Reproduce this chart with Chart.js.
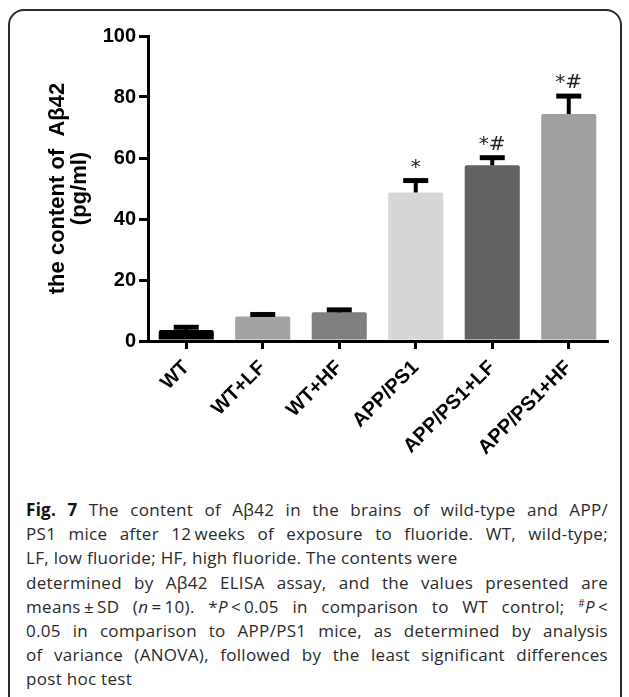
<!DOCTYPE html>
<html>
<head>
<meta charset="utf-8">
<script src="https://cdn.jsdelivr.net/npm/chart.js@4.4.1/dist/chart.umd.min.js"></script>
<style>
    html, body { margin: 0; padding: 0; background: #fff; }
    body { width: 629px; height: 697px; position: relative; overflow: hidden; }
    #frame {
        position: absolute; left: 8px; top: 9px; width: 610px; height: 720px;
        border: 2px solid #2b2b2b; border-radius: 16px;
    }
    #chartBox { position: absolute; left: 0; top: 0; }
    #caption {
        position: absolute; left: 26px; top: 498px; width: 582px;
        font-family: "Open Sans", sans-serif; font-size: 17px; letter-spacing: 0.3px;
        line-height: 24.2px; color: #2a2a2a;
    }
    #caption div { white-space: nowrap; height: 24.2px; }
    #caption .j { text-align: justify; text-align-last: justify; white-space: normal; }
    #caption b { color: #111; }
    #caption sup { font-size: 10px; line-height: 0; vertical-align: 6px; }
</style>
</head>
<body>
<div id="frame"></div>
<canvas id="chartBox" width="629" height="480"></canvas>
<div id="caption">
    <div class="j"><b>Fig. 7</b> The content of Aβ42 in the brains of wild-type and APP/</div>
    <div class="j">PS1 mice after 12&#8201;weeks of exposure to fluoride. WT, wild-type;</div>
    <div>LF, low fluoride; HF, high fluoride. The contents were</div>
    <div class="j">determined by Aβ42 ELISA assay, and the values presented are</div>
    <div class="j">means&#8201;±&#8201;SD (<i>n</i>&#8201;=&#8201;10). *<i>P</i>&#8201;&lt;&#8201;0.05 in comparison to WT control; <sup>#</sup><i>P</i>&#8201;&lt;</div>
    <div class="j">0.05 in comparison to APP/PS1 mice, as determined by analysis</div>
    <div class="j">of variance (ANOVA), followed by the least significant differences</div>
    <div>post hoc test</div>
</div>
<script>
// groups and Aβ42 values (pg/ml)
const groups = ["WT", "WT+LF", "WT+HF", "APP/PS1", "APP/PS1+LF", "APP/PS1+HF"];
const means = [3.6, 8.0, 9.4, 48.7, 57.6, 74.4];
const sds = [0.9, 0.7, 0.8, 3.9, 2.5, 5.9];
const marks = ["", "", "", "*", "*#", "*#"];
const yTicks = [0, 20, 40, 60, 80, 100];

const barColors = ["#000000", "#a3a3a3", "#7f7f7f", "#d6d6d6", "#626262", "#a0a0a0"];

// upper error bars + significance marks
const errorBars = {
    id: "errorBars",
    afterDatasetsDraw(chart) {
        const ctx = chart.ctx;
        const y = chart.scales.y;
        const meta = chart.getDatasetMeta(0);
        ctx.save();
        meta.data.forEach((bar, i) => {
            const x = bar.x;
            const yTop = y.getPixelForValue(means[i]);
            const yErr = y.getPixelForValue(means[i] + sds[i]);
            ctx.strokeStyle = "#000";
            ctx.lineWidth = 4;
            ctx.beginPath();
            ctx.moveTo(x, yTop);
            ctx.lineTo(x, yErr);
            ctx.stroke();
            ctx.lineWidth = 5;
            ctx.beginPath();
            ctx.moveTo(x - 12.5, yErr);
            ctx.lineTo(x + 12.5, yErr);
            ctx.stroke();
            if (marks[i]) {
                ctx.fillStyle = "#222";
                ctx.font = "20px 'DejaVu Sans', sans-serif";
                ctx.textAlign = "center";
                ctx.textBaseline = "middle";
                ctx.fillText(marks[i], x, yErr - 13);
            }
        });
        ctx.restore();
    },
};

new Chart(document.getElementById("chartBox").getContext("2d"), {
    type: "bar",
    data: {
        labels: groups,
        datasets: [{
            data: means,
            backgroundColor: barColors,
            borderWidth: 0,
            borderRadius: 2,
            barPercentage: 0.72,
            categoryPercentage: 1,
        }],
    },
    options: {
        responsive: false,
        animation: false,
        devicePixelRatio: 1,
        layout: { padding: { left: 0, top: 36, right: 22, bottom: 0 } },
        plugins: { legend: { display: false }, tooltip: { enabled: false } },
        scales: {
            x: {
                grid: {
                    offset: false, drawOnChartArea: false, drawTicks: true,
                    tickLength: 8, lineWidth: 3, color: "#000",
                },
                border: { display: true, color: "#000", width: 3 },
                ticks: {
                    autoSkip: false, maxRotation: 45, minRotation: 45, padding: 7,
                    color: "#000",
                    font: { family: "'Liberation Sans', Arial, sans-serif", size: 20, weight: "bold" },
                },
                afterFit: (scale) => { scale.height = 139; },
            },
            y: {
                min: 0, max: 100,
                afterBuildTicks: (scale) => { scale.ticks = yTicks.map((v) => ({ value: v })); },
                grid: {
                    drawOnChartArea: false, drawTicks: true,
                    tickLength: 9, lineWidth: 3, color: "#000",
                },
                border: { display: true, color: "#000", width: 3 },
                ticks: {
                    padding: 3, color: "#000",
                    font: { family: "'Liberation Sans', Arial, sans-serif", size: 20, weight: "bold" },
                },
                title: {
                    display: true,
                    text: ["the content of  Aβ42", "(pg/ml)"],
                    color: "#000",
                    font: { family: "'Liberation Sans', Arial, sans-serif", size: 22, weight: "bold", lineHeight: 1.0 },
                    padding: { top: 47, bottom: 0 },
                },
                afterFit: (scale) => { scale.width = 148; },
            },
        },
    },
    plugins: [errorBars],
});
</script>
</body>
</html>
